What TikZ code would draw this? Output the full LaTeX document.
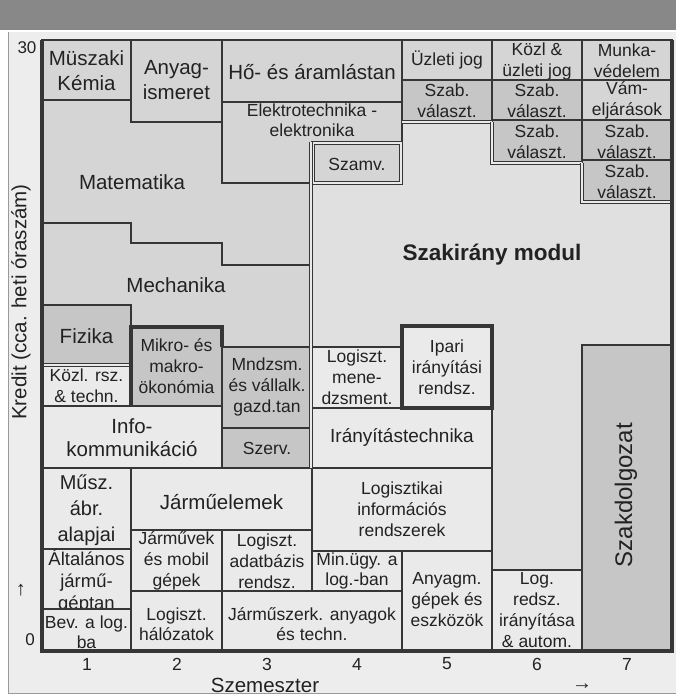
\documentclass[tikz,border=0pt]{standalone}
\usepackage{fontspec}
\setmainfont{Liberation Sans}
\newfontfamily\arrfont{Liberation Serif}
\definecolor{hdr}{HTML}{888888}
\definecolor{panel}{HTML}{EDEDED}
\definecolor{gA}{HTML}{D5D5D5}
\definecolor{gB}{HTML}{C6C6C6}
\definecolor{gL}{HTML}{EAEAEA}
\definecolor{gS}{HTML}{E0E0E0}
\definecolor{ln}{HTML}{363636}
\definecolor{txt}{HTML}{222222}
\newcommand\FBig{\fontsize{20.5}{25}\selectfont}
\newcommand\FMid{\fontsize{19}{22}\selectfont}
\newcommand\FSm{\fontsize{17.5}{21}\selectfont}
\newcommand\cbox[9]{%
  \draw[bx,fill=#6] (#2,#3) rectangle (#4,#5);
  \node[lbl,font=#7] (#1) at ({(#2+#4)/2},#8) {#9};}
\begin{document}
\begin{tikzpicture}[x=1pt,y=-1pt,
  bx/.style={draw=ln,line width=2.7pt},
  lbl/.style={align=center,inner sep=0pt,text=txt},
  dbl/.style={draw=ln,line width=1.2pt,double=gL,double distance=1.6pt},
]
\useasboundingbox (0,0) rectangle (676,697);
\fill[white] (0,0) rectangle (676,697);
\fill[hdr] (0,0) rectangle (676,30);
\fill[panel] (8,32) rectangle (676,693);
\draw[black!40,line width=0.8pt] (8,32) -- (8,693) -- (676,693);
% large regions
\draw[bx,fill=gA] (42,100) -- (131,100) -- (131,122) -- (222,122) -- (222,183) -- (312,183) -- (312,265) -- (222,265) -- (222,243) -- (131,243) -- (131,223) -- (42,223) -- cycle;
\node[lbl,font=\FBig] (mat) at (132,182) {Matematika};
\draw[bx,fill=gA] (42,223) -- (131,223) -- (131,243) -- (222,243) -- (222,265) -- (312,265) -- (312,347) -- (222,347) -- (222,327) -- (131,327) -- (131,305) -- (42,305) -- cycle;
\node[lbl,font=\FBig] (mech) at (176,285) {Mechanika};
\draw[bx,fill=gA] (222,102) -- (402,102) -- (402,142) -- (312,142) -- (312,183) -- (222,183) -- cycle;
\node[lbl,font=\fontsize{17.5}{20}\selectfont] (elek) at (312,120) {Elektrotechnika -\\elektronika};
\draw[bx,fill=gS] (312,183) -- (402,183) -- (402,122) -- (492,122) -- (492,162) -- (582,162) -- (582,202) -- (672,202) -- (672,345) -- (582,345) -- (582,570) -- (492,570) -- (492,326) -- (402,326) -- (402,347) -- (312,347) -- cycle;
\node[lbl,font=\fontsize{22.5}{24}\selectfont\bfseries] (szm) at (492,255) {Szakirány modul};
% boxes
\cbox{mk}{42}{40}{131}{100}{gA}{\FBig}{71}{Müszaki\\Kémia}
\cbox{an}{131}{40}{222}{122}{gA}{\FBig}{80}{Anyag-\\ismeret}
\cbox{ho}{222}{40}{402}{102}{gA}{\FBig}{72}{Hő- és áramlástan}
\draw[dbl,fill=gA] (313,143) rectangle (401,183);
\node[lbl,font=\FSm] (szamv) at (357,164) {Szamv.};
\cbox{fiz}{42}{305}{131}{365}{gB}{\FBig}{336}{Fizika}
\cbox{kozl}{42}{365}{131}{406}{gL}{\FSm}{386}{Közl. rsz.\\\& techn.}
\cbox{mikro}{131}{327}{222}{406}{gB}{\FSm}{366}{Mikro- és\\makro-\\ökonómia}
\cbox{mndz}{222}{347}{312}{428}{gB}{\FSm}{387}{Mndzsm.\\és vállalk.\\gazd.tan}
\cbox{szerv}{222}{428}{312}{468}{gB}{\FSm}{448}{Szerv.}
\cbox{info}{42}{406}{222}{468}{gL}{\fontsize{20.5}{23}\selectfont}{438}{Info-\\kommunikáció}
\cbox{musz}{42}{468}{131}{549}{gL}{\fontsize{20}{26}\selectfont}{510}{Műsz.\\ábr.\\alapjai}
\cbox{alt}{42}{549}{131}{609}{gL}{\fontsize{18.5}{22}\selectfont}{581}{Általános\\jármű-\\géptan}
\cbox{bev}{42}{609}{131}{651}{gL}{\fontsize{17.5}{20}\selectfont}{632}{Bev. a log.\\ba}
\cbox{jel}{131}{468}{312}{530}{gL}{\FBig}{502}{Járműelemek}
\cbox{jmv}{131}{530}{222}{591}{gL}{\FSm}{561}{Járművek\\és mobil\\gépek}
\cbox{lad}{222}{530}{312}{591}{gL}{\FSm}{561}{Logiszt.\\adatbázis\\rendsz.}
\cbox{lh}{131}{591}{222}{651}{gL}{\fontsize{17.5}{20}\selectfont}{624}{Logiszt.\\hálózatok}
\cbox{jsz}{222}{591}{402}{651}{gL}{\fontsize{17.5}{20}\selectfont}{624}{Járműszerk. anyagok\\és techn.}
\cbox{min}{312}{551}{402}{591}{gL}{\fontsize{17.5}{20}\selectfont}{571}{Min.ügy. a\\log.-ban}
\cbox{lis}{312}{468}{492}{551}{gL}{\FSm}{509}{Logisztikai\\információs\\rendszerek}
\cbox{agm}{402}{551}{492}{651}{gL}{\FSm}{600}{Anyagm.\\gépek és\\eszközök}
\cbox{lri}{492}{570}{582}{651}{gL}{\FSm}{610}{Log.\\redsz.\\irányítása\\\& autom.}
\draw[bx,fill=gB] (582,345) rectangle (672,651);
\node[lbl,font=\fontsize{24}{24}\selectfont,rotate=90] (szd) at (626,495) {Szakdolgozat};
\cbox{irt}{312}{408}{492}{468}{gL}{\FMid}{437}{Irányítástechnika}
\cbox{lm}{312}{347}{402}{408}{gL}{\FSm}{377}{Logiszt.\\mene-\\dzsment.}
\draw[ln,line width=3.6pt,fill=gL] (402,326) rectangle (492,408);
\node[lbl,font=\FSm] (ipari) at (447,367) {Ipari\\irányítási\\rendsz.};
\cbox{uz}{402}{40}{492}{80}{gA}{\FSm}{60}{Üzleti jog}
\cbox{sz1}{402}{80}{492}{121}{gB}{\FSm}{101}{Szab.\\választ.}
\cbox{kuz}{492}{40}{582}{80}{gA}{\FSm}{61}{Közl \&\\üzleti jog}
\cbox{sz2}{492}{80}{582}{120}{gB}{\FSm}{101}{Szab.\\választ.}
\cbox{sz3}{492}{120}{582}{162}{gB}{\FSm}{142}{Szab.\\választ.}
\cbox{mv}{582}{40}{672}{80}{gA}{\FSm}{61}{Munka-\\védelem}
\cbox{vam}{582}{80}{672}{120}{gA}{\FSm}{100}{Vám-\\eljárások}
\cbox{sz4}{582}{120}{672}{160}{gB}{\FSm}{142}{Szab.\\választ.}
\cbox{sz5}{582}{160}{672}{201}{gB}{\FSm}{182}{Szab.\\választ.}
% double lines
\draw[dbl] (311,142) -- (311,468);
\draw[dbl] (402,122) -- (492,122);
\draw[dbl] (492,122) -- (492,163) -- (582,163);
\draw[dbl] (582,163) -- (582,202) -- (672,202);
\draw[dbl] (42,365) -- (131,365);
\draw[ln,line width=3.6pt] (131,406) -- (131,327) -- (222,327) -- (222,347);
% outline
\draw[ln,line width=2.7pt] (42,40) -- (672,40);
\draw[ln,line width=3.8pt] (42,40) -- (42,651) -- (672,651) -- (672,40);
% axes
\node[lbl,font=\fontsize{17}{17}\selectfont] (y30) at (27,48) {30};
\node[lbl,font=\fontsize{17}{17}\selectfont] (y0) at (30,640) {0};
\node[lbl,font=\arrfont\fontsize{20}{20}\selectfont] (yarr) at (21,590) {↑};
\node[lbl,font=\fontsize{20.5}{21}\selectfont,rotate=90] (ylab) at (21,302) {Kredit (cca. heti óraszám)};
\foreach \i in {1,...,7} \node[lbl,font=\fontsize{17.5}{18}\selectfont] (s\i) at ({87+90*(\i-1)},664) {\i};
\node[lbl,font=\fontsize{20.5}{21}\selectfont] (szem) at (265,685) {Szemeszter};
\node[lbl,font=\arrfont\fontsize{20}{20}\selectfont] (xarr) at (582,687) {→};
\end{tikzpicture}
\end{document}
